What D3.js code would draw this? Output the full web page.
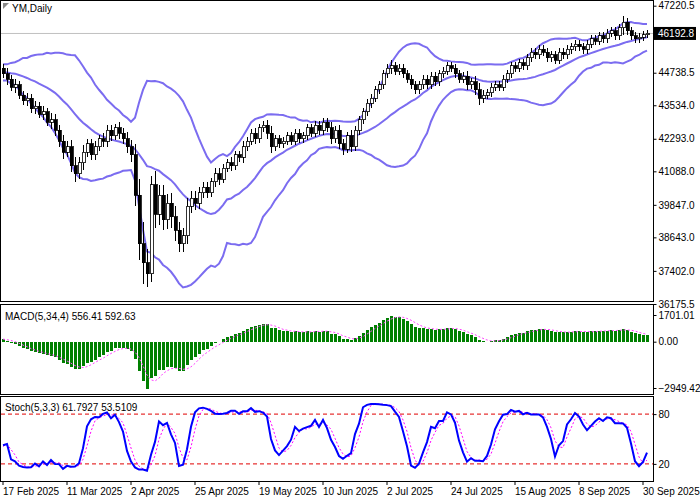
<!DOCTYPE html>
<html>
<head>
<meta charset="utf-8">
<script src="https://cdn.jsdelivr.net/npm/d3@7"></script>
<style>
  body { margin: 0; background: #fff; }
  text { font-family: "Liberation Sans", Arial, sans-serif; font-size: 10px; fill: #000; }
</style>
</head>
<body>
<svg id="chart" width="700" height="500"></svg>
<script>
// Closes before the visible window (used only to seed the indicators)
const preCloses = [44300, 44500, 44800, 44600, 44900, 44700, 45000, 44800, 44600, 44900,
  44700, 44500, 44800, 44600, 44900, 45000, 44700, 44800, 44600, 44900]

// Daily closes of the visible bars
const closes = [
  44700, 44500, 44200, 44300, 43900, 43700, 43800, 43400, 43500, 43200,
  43300, 42900, 43000, 42600, 42200, 41800, 42000, 41300, 41000, 41400,
  41800, 42100, 41700, 42000, 42300, 42200, 42600, 42400, 42700, 42500,
  42300, 42000, 41700, 40200, 38400, 37700, 37300, 40600, 39500, 40200,
  39300, 39900, 39400, 38900, 38400, 38700, 39800, 40100, 39900, 40300,
  40500, 40300, 40700, 41000, 40800, 41200, 41400, 41300, 41700, 41600,
  42000, 42200, 42500, 42300, 42700, 42800, 42500, 42000, 42300, 42100,
  42200, 42400, 42200, 42500, 42300, 42400, 42700, 42500, 42800, 42600,
  42900, 42700, 42300, 42600, 42100, 41900, 42400, 42000, 42600, 43000,
  43300, 43600, 43800, 44100, 44300, 44700, 44900, 45000, 44800, 44900,
  44700, 44500, 44300, 44100, 44300, 44500, 44300, 44600, 44400, 44700,
  44800, 45000, 44900, 44700, 44500, 44600, 44300, 44400, 44100, 43800,
  43900, 44000, 44200, 44300, 44200, 44500, 44700, 45000, 44900, 45100,
  45000, 45300, 45500, 45400, 45600, 45500, 45300, 45400, 45200, 45500,
  45400, 45600, 45700, 45800, 45700, 45600, 45800, 46000, 45900, 46100,
  46000, 46200, 46300, 46100, 46400, 46600, 46300, 46100, 46000, 46050,
  46150, 46192.8]

// Wick length above/below the body, in points
const wicks = [
  150, 200, 150, 200, 150, 150, 200, 150, 200, 150,
  200, 150, 250, 200, 200, 250, 200, 250, 300, 200,
  250, 200, 200, 200, 150, 200, 200, 200, 150, 200,
  200, 250, 250, 400, 600, 800, 500, 300, 500, 400,
  400, 350, 400, 400, 300, 300, 300, 250, 250, 200,
  200, 200, 150, 200, 200, 150, 150, 200, 150, 150,
  200, 150, 150, 200, 150, 150, 200, 250, 150, 150,
  150, 150, 150, 150, 150, 150, 150, 150, 150, 150,
  150, 150, 200, 150, 200, 200, 150, 200, 150, 150,
  150, 150, 150, 150, 150, 150, 150, 200, 150, 150,
  150, 150, 150, 150, 150, 150, 150, 150, 150, 150,
  150, 150, 150, 150, 150, 150, 200, 150, 200, 250,
  200, 150, 150, 150, 150, 150, 150, 150, 150, 150,
  150, 150, 150, 150, 150, 150, 150, 150, 150, 150,
  150, 150, 150, 150, 150, 150, 150, 150, 150, 150,
  150, 150, 150, 150, 150, 250, 150, 150, 150, 150,
  150, 120]

const priceTicks = [47220.5, 44738.5, 43534.0, 42293.0, 41088.0, 39847.0, 38643.0, 37402.0, 36175.5]
const macdTicks = [1701.01, 0.00, -2949.42]
const stochTicks = [80, 20]
const dateLabels = ['17 Feb 2025', '11 Mar 2025', '2 Apr 2025', '25 Apr 2025', '19 May 2025',
  '10 Jun 2025', '2 Jul 2025', '24 Jul 2025', '15 Aug 2025', '8 Sep 2025', '30 Sep 2025']
const lastPrice = 46192.8

// ---- derived OHLC ----
const all = preCloses.concat(closes)
const P = preCloses.length
const bars = closes.map((c, i) => {
  const o = all[P + i - 1]
  return { i, o, c, h: Math.max(o, c) + wicks[i], l: Math.min(o, c) - wicks[i] }
})
const highs = preCloses.map(c => c + 150).concat(bars.map(b => b.h))
const lows = preCloses.map(c => c - 150).concat(bars.map(b => b.l))

// Bollinger (20, 2)
const bands = closes.map((c, i) => {
  const win = all.slice(P + i - 19, P + i + 1)
  const m = d3.mean(win), sd = Math.sqrt(d3.mean(win, v => (v - m) ** 2))
  return { i, mid: m, up: m + 2 * sd, lo: m - 2 * sd }
})

// MACD (5, 34, 4)
function ema (arr, n) {
  const k = 2 / (n + 1), out = []
  arr.forEach((v, j) => out.push(j === 0 ? v : v * k + out[j - 1] * (1 - k)))
  return out
}
const e5 = ema(all, 5), e34 = ema(all, 34)
const macdAll = all.map((v, j) => e5[j] - e34[j])
const macd = closes.map((c, i) => {
  const j = P + i
  return { i, m: macdAll[j], s: d3.mean(macdAll.slice(j - 3, j + 1)) }
})

// Stochastic (5, 3, 3)
const rawK = all.map((c, j) => {
  const hh = d3.max(highs.slice(Math.max(0, j - 4), j + 1))
  const ll = d3.min(lows.slice(Math.max(0, j - 4), j + 1))
  return { num: c - ll, den: hh - ll }
})
const kAll = all.map((c, j) => {
  const w = rawK.slice(Math.max(0, j - 2), j + 1)
  return 100 * d3.sum(w, d => d.num) / d3.sum(w, d => d.den)
})
const stoch = closes.map((c, i) => {
  const j = P + i
  return { i, k: kAll[j], d: d3.mean(kAll.slice(j - 2, j + 1)) }
})

// ---- layout ----
const svg = d3.select('#chart')
const plotR = 653
const x = d3.scaleLinear().domain([0, 161]).range([3, 647])
const yP = d3.scaleLinear().domain([36175.5, 47220.5]).range([304, 5.7])
const yM = d3.scaleLinear().domain([-2949.42, 1701.01]).range([388, 315])
const yS = d3.scaleLinear().domain([0, 100]).range([480.5, 397.5])

function frame (y0, y1) {
  svg.append('rect').attr('x', 0.5).attr('y', y0 + 0.5).attr('width', plotR)
    .attr('height', y1 - y0).attr('fill', 'none').attr('stroke', '#000')
}
frame(0, 301)
frame(304, 394)
frame(396, 481)

// right axes
function rightAxis (scale, ticks, fmt) {
  const g = svg.append('g').attr('transform', `translate(${plotR + 0.5},0)`)
    .call(d3.axisRight(scale).tickValues(ticks).tickSize(3).tickFormat(fmt))
  g.select('.domain').remove()
  g.selectAll('text').attr('x', 5).style('font-size', '10px')
}
rightAxis(yP, priceTicks, d3.format('.1f'))
rightAxis(yM, macdTicks, d3.format('.2f'))
rightAxis(yS, stochTicks, d3.format('d'))

// gray current price line
svg.append('line').attr('x1', 1).attr('x2', plotR).attr('y1', yP(lastPrice)).attr('y2', yP(lastPrice))
  .attr('stroke', '#c0c0c0')
svg.append('rect').attr('x', plotR + 1).attr('y', yP(lastPrice) - 6.5).attr('width', 42).attr('height', 13).attr('fill', '#000')
svg.append('text').attr('x', plotR + 5).attr('y', yP(lastPrice) + 3.5).style('fill', '#fff').text(lastPrice.toFixed(1))

// Bollinger bands
const bandColor = '#7b6cf0'
;['up', 'mid', 'lo'].forEach(key => {
  svg.append('path').datum(bands)
    .attr('d', d3.line().x(d => x(d.i)).y(d => yP(d[key])))
    .attr('fill', 'none').attr('stroke', bandColor).attr('stroke-width', 2)
})

// candles
const cg = svg.append('g').attr('shape-rendering', 'crispEdges')
cg.selectAll('line').data(bars).enter().append('line')
  .attr('x1', d => Math.round(x(d.i)) + 0.5).attr('x2', d => Math.round(x(d.i)) + 0.5)
  .attr('y1', d => yP(d.h)).attr('y2', d => yP(d.l)).attr('stroke', '#000')
cg.selectAll('rect').data(bars).enter().append('rect')
  .attr('x', d => Math.round(x(d.i)) - 1)
  .attr('y', d => yP(Math.max(d.o, d.c)))
  .attr('width', 3)
  .attr('height', d => Math.max(1, Math.abs(yP(d.o) - yP(d.c))))
  .attr('fill', d => d.c >= d.o ? '#fff' : '#000').attr('stroke', '#000').attr('stroke-width', 0.8)

svg.append('path').attr('d', 'M3,3 L9,3 L3,9 Z').attr('fill', '#888')
svg.append('text').attr('x', 12).attr('y', 12).text('YM,Daily')

// MACD
svg.append('g').attr('shape-rendering', 'crispEdges').selectAll('rect').data(macd).enter().append('rect')
  .attr('x', d => Math.round(x(d.i)) - 1).attr('width', 3)
  .attr('y', d => Math.min(yM(0), yM(d.m)))
  .attr('height', d => Math.abs(yM(d.m) - yM(0)))
  .attr('fill', '#008000')
svg.append('path').datum(macd).attr('d', d3.line().x(d => x(d.i)).y(d => yM(d.s)))
  .attr('fill', 'none').attr('stroke', '#ff44ff').attr('stroke-dasharray', '2,2')
svg.append('text').attr('x', 5).attr('y', 320).text('MACD(5,34,4) 556.41 592.63')

// Stochastic
stochTicks.forEach(v => {
  svg.append('line').attr('x1', 1).attr('x2', plotR).attr('y1', yS(v)).attr('y2', yS(v))
    .attr('stroke', '#e00000').attr('stroke-dasharray', '4,3')
})
svg.append('path').datum(stoch).attr('d', d3.line().x(d => x(d.i)).y(d => yS(d.d)))
  .attr('fill', 'none').attr('stroke', '#ff00ff').attr('stroke-dasharray', '2,2')
svg.append('path').datum(stoch).attr('d', d3.line().x(d => x(d.i)).y(d => yS(d.k)))
  .attr('fill', 'none').attr('stroke', '#0000ff').attr('stroke-width', 2)
svg.append('text').attr('x', 5).attr('y', 411).text('Stoch(5,3,3) 61.7927 53.5109')

// date axis
dateLabels.forEach((lab, k) => {
  const xi = x(k * 16)
  svg.append('line').attr('x1', xi).attr('x2', xi).attr('y1', 481).attr('y2', 485).attr('stroke', '#000')
  svg.append('text').attr('x', xi).attr('y', 495).text(lab)
})
</script>
</body>
</html>
